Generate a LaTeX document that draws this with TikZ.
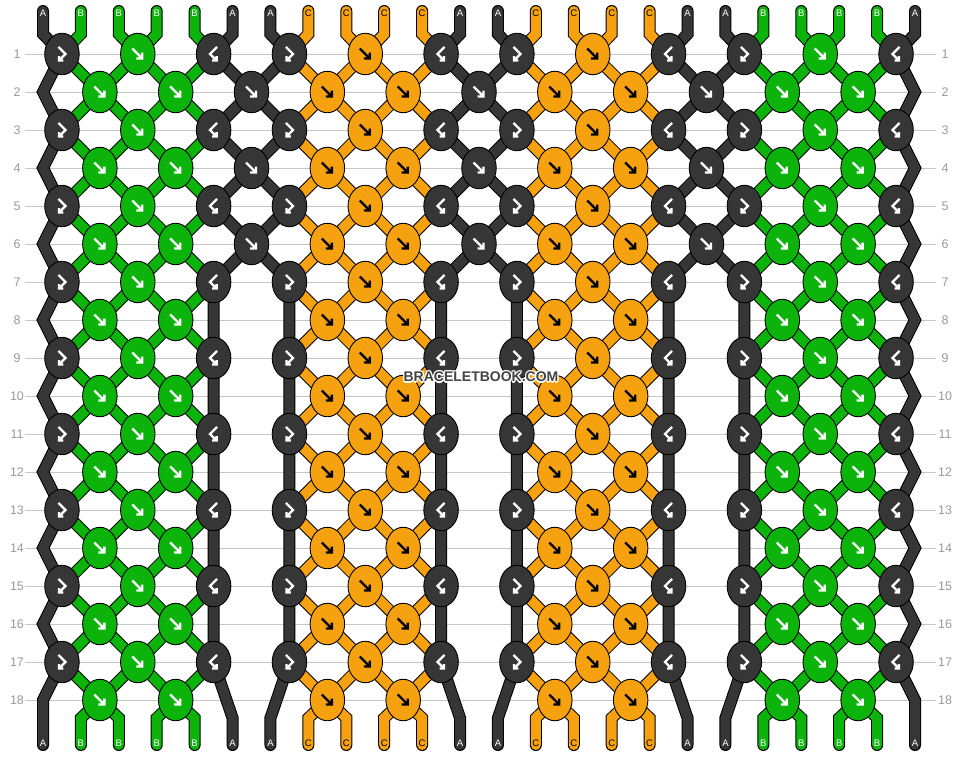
\documentclass[tikz,border=0pt]{standalone}
\usepackage{fontspec}
\setmainfont{Liberation Sans}
\usetikzlibrary{shapes.geometric}
\definecolor{cA}{HTML}{363636}
\definecolor{cB}{HTML}{0BB30B}
\definecolor{cC}{HTML}{F6A10F}
\definecolor{gridgray}{HTML}{C6C6C6}
\definecolor{numgray}{HTML}{999999}
\definecolor{wmgray}{HTML}{444444}
\pgfdeclarelayer{gridlayer}
\pgfdeclarelayer{strandlayer}
\pgfsetlayers{gridlayer,strandlayer,main}
\begin{document}
\begin{tikzpicture}[x=1pt,y=-1pt,
  knot/.style={ellipse,draw=black,line width=0.9pt,minimum width=34.5pt,minimum height=41.5pt,inner sep=0pt},
  arrline/.style={line width=2.3pt,line cap=butt,line join=miter},
  strand/.style={draw=black,line width=1pt,double=#1,double distance=10pt,line cap=round,line join=miter},
  gridline/.style={draw=gridgray,line width=0.9pt},
  rownum/.style={text=numgray,font=\fontsize{12.5}{13}\selectfont,inner sep=0pt},
  lab/.style={font=\fontsize{9.5}{9.5}\selectfont,inner sep=0pt},
  wm/.style={font=\bfseries\fontsize{14}{14}\selectfont,inner sep=0pt},
  pics/arrF/.style={code={\draw[arrline,draw=#1] (-5.5,-5.5) -- (4.5,4.5) (4.5,-1.5) -- (4.5,4.5) -- (-1.5,4.5);}},
  pics/arrFB/.style={code={\draw[arrline,draw=#1] (-3.5,-7) -- (3.5,0) -- (-3,6.5) (-3,2) -- (-3,6.5) -- (1.5,6.5);}},
  pics/arrBF/.style={code={\draw[arrline,draw=#1] (3.5,-7) -- (-3.5,0) -- (3,6.5) (3,2) -- (3,6.5) -- (-1.5,6.5);}}
]
\useasboundingbox (0,0) rectangle (962,756);

% ---------- knots: odd rows ----------
\foreach \r in {1,3,...,17}{
  \pgfmathsetmacro\y{54+38*(\r-1)}
  \foreach \k in {0,3,6,9}{
    \node[knot,fill=cA] (K-\r-\k) at ({61.96+75.826*\k},\y) {};
    \pic at (K-\r-\k) {arrFB=white};
  }
  \foreach \k in {2,5,8,11}{
    \node[knot,fill=cA] (K-\r-\k) at ({61.96+75.826*\k},\y) {};
    \pic at (K-\r-\k) {arrBF=white};
  }
  \foreach \k in {1,10}{
    \node[knot,fill=cB] (K-\r-\k) at ({61.96+75.826*\k},\y) {};
    \pic at (K-\r-\k) {arrF=white};
  }
  \foreach \k in {4,7}{
    \node[knot,fill=cC] (K-\r-\k) at ({61.96+75.826*\k},\y) {};
    \pic at (K-\r-\k) {arrF=black};
  }
}
% ---------- knots: even rows ----------
\foreach \r in {2,4,...,18}{
  \pgfmathsetmacro\y{54+38*(\r-1)}
  \foreach \k in {0,1,9,10}{
    \node[knot,fill=cB] (K-\r-\k) at ({99.87+75.826*\k},\y) {};
    \pic at (K-\r-\k) {arrF=white};
  }
  \foreach \k in {3,4,6,7}{
    \node[knot,fill=cC] (K-\r-\k) at ({99.87+75.826*\k},\y) {};
    \pic at (K-\r-\k) {arrF=black};
  }
}
\foreach \r in {2,4,6}{
  \pgfmathsetmacro\y{54+38*(\r-1)}
  \foreach \k in {2,5,8}{
    \node[knot,fill=cA] (K-\r-\k) at ({99.87+75.826*\k},\y) {};
    \pic at (K-\r-\k) {arrF=white};
  }
}

% ---------- strands ----------
\begin{pgfonlayer}{strandlayer}
\foreach \i/\c in {1/cB,2/cB,3/cB,4/cB,7/cC,8/cC,9/cC,10/cC,13/cC,14/cC,15/cC,16/cC,19/cB,20/cB,21/cB,22/cB}{
  \pgfmathsetmacro\sx{43+37.913*\i}
  \pgfmathtruncatemacro\ko{floor(\i/2)}
  \pgfmathtruncatemacro\ke{floor((\i-1)/2)}
  \draw[strand=\c] (\sx,11) -- (\sx,34)
    \foreach \r/\rr in {1/2,3/4,5/6,7/8,9/10,11/12,13/14,15/16,17/18}{ -- (K-\r-\ko.center) -- (K-\rr-\ke.center) }
    -- (\sx,718) -- (\sx,745);
}
\foreach \i in {5,6,11,12,17,18}{
  \pgfmathsetmacro\sx{43+37.913*\i}
  \pgfmathtruncatemacro\ko{floor(\i/2)}
  \pgfmathtruncatemacro\ke{floor((\i-1)/2)}
  \draw[strand=cA] (\sx,11) -- (\sx,34)
    \foreach \r/\rr in {1/2,3/4,5/6}{ -- (K-\r-\ko.center) -- (K-\rr-\ke.center) }
    -- (K-7-\ko.center) -- (K-17-\ko.center) -- (\sx,718) -- (\sx,745);
}
\foreach \sx/\ko in {43/0,915/11}{
  \draw[strand=cA] (\sx,11) -- (\sx,34)
    \foreach \r/\rr in {1/2,3/4,5/6,7/8,9/10,11/12,13/14,15/16,17/18}{ -- (K-\r-\ko.center) -- (\sx,{54+38*(\rr-1)}) }
    -- (\sx,745);
}
\end{pgfonlayer}

% ---------- grid lines and row numbers ----------
\begin{pgfonlayer}{gridlayer}
\foreach \r in {1,...,18}{
  \pgfmathsetmacro\y{54+38*(\r-1)}
  \coordinate (GL-\r) at (25,\y);
  \coordinate (GR-\r) at (936,\y);
  \draw[gridline] (GL-\r) -- (GR-\r);
}
\end{pgfonlayer}
\foreach \r in {1,...,18}{
  \pgfmathsetmacro\y{54+38*(\r-1)}
  \node[rownum] (RL-\r) at (17,\y) {\r};
  \node[rownum] (RR-\r) at (945,\y) {\r};
}

% ---------- string labels ----------
\foreach \i/\l/\tc in {0/A/white,1/B/white,2/B/white,3/B/white,4/B/white,5/A/white,6/A/white,7/C/black,8/C/black,9/C/black,10/C/black,11/A/white,12/A/white,13/C/black,14/C/black,15/C/black,16/C/black,17/A/white,18/A/white,19/B/white,20/B/white,21/B/white,22/B/white,23/A/white}{
  \pgfmathsetmacro\sx{43+37.913*\i}
  \node[lab,text=\tc] (LT-\i) at (\sx,13) {\l};
  \node[lab,text=\tc] (LB-\i) at (\sx,743) {\l};
}

% ---------- watermark (white halo + text) ----------
\foreach \dx/\dy [count=\n] in {1.2/0,-1.2/0,0/1.2,0/-1.2,0.9/0.9,-0.9/0.9,0.9/-0.9,-0.9/-0.9}{
  \node[wm,text=white] (wmh\n) at ({481+\dx},{377+\dy}) {BRACELETBOOK.COM};
}
\node[wm,text=wmgray] (wm) at (481,377) {BRACELETBOOK.COM};
\end{tikzpicture}
\end{document}
